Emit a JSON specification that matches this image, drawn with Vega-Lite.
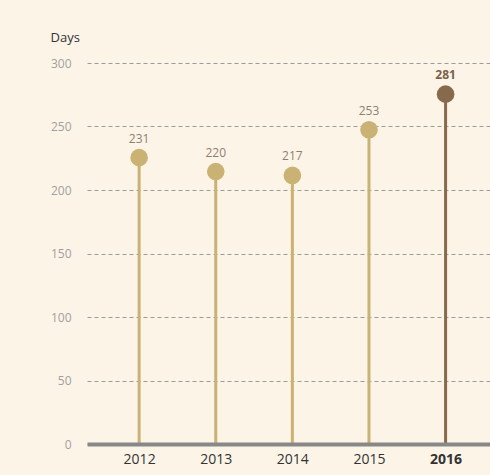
{
  "$schema": "https://vega.github.io/schema/vega-lite/v6.json",
  "width": 403,
  "height": 381,
  "autosize": {"type": "none"},
  "padding": {"left": 87, "top": 63, "right": 0, "bottom": 31},
  "background": "#fdf4e8",
  "config": {
    "view": {"stroke": null},
    "font": "Open Sans"
  },
  "data": {
    "values": [
      {"year": "2012", "days": 231},
      {"year": "2013", "days": 220},
      {"year": "2014", "days": 217},
      {"year": "2015", "days": 253},
      {"year": "2016", "days": 281}
    ]
  },
  "encoding": {
    "x": {
      "field": "year",
      "type": "ordinal",
      "scale": {"type": "point", "padding": 0.63, "align": 0.54},
      "axis": {
        "title": null,
        "domain": true,
        "domainColor": "#888888",
        "domainWidth": 4,
        "ticks": false,
        "grid": false,
        "labelAngle": 0,
        "labelFontSize": 14,
        "labelColor": "#333333",
        "labelPadding": 8,
        "labelFontWeight": {"condition": {"test": "datum.value == '2016'", "value": "bold"}, "value": "normal"},
        "zindex": 1
      }
    },
    "y": {
      "field": "days",
      "type": "quantitative",
      "scale": {"domain": [0, 300], "nice": false, "zero": true},
      "axis": {
        "values": [0, 50, 100, 150, 200, 250, 300],
        "domain": false,
        "ticks": false,
        "grid": true,
        "gridDash": [4, 3],
        "gridColor": "#9a9a9a",
        "gridWidth": 1,
        "labelColor": "#a0a0a0",
        "labelFontSize": 12,
        "labelPadding": 16,
        "title": "Days",
        "titleAngle": 0,
        "titleAlign": "left",
        "titleBaseline": "alphabetic",
        "titleX": -37,
        "titleY": -22,
        "titleFontSize": 13,
        "titleFontWeight": "normal",
        "titleColor": "#333333"
      }
    }
  },
  "layer": [
    {
      "mark": {"type": "rule", "strokeWidth": 3},
      "encoding": {
        "y2": {"datum": 0},
        "color": {"condition": {"test": "datum.year == '2016'", "value": "#87694b"}, "value": "#c9b273"}
      }
    },
    {
      "mark": {"type": "point", "shape": "circle", "filled": true, "opacity": 1, "size": 310, "yOffset": 7},
      "encoding": {
        "color": {"condition": {"test": "datum.year == '2016'", "value": "#87694b"}, "value": "#c9b273"}
      }
    },
    {
      "transform": [{"filter": "datum.year != '2016'"}],
      "mark": {"type": "text", "baseline": "alphabetic", "dy": -8, "fontSize": 12, "color": "#8f7f6e"},
      "encoding": {"text": {"field": "days", "type": "quantitative"}}
    },
    {
      "transform": [{"filter": "datum.year == '2016'"}],
      "mark": {"type": "text", "baseline": "alphabetic", "dy": -8, "fontSize": 12, "fontWeight": "bold", "color": "#7a6148"},
      "encoding": {"text": {"field": "days", "type": "quantitative"}}
    }
  ]
}
